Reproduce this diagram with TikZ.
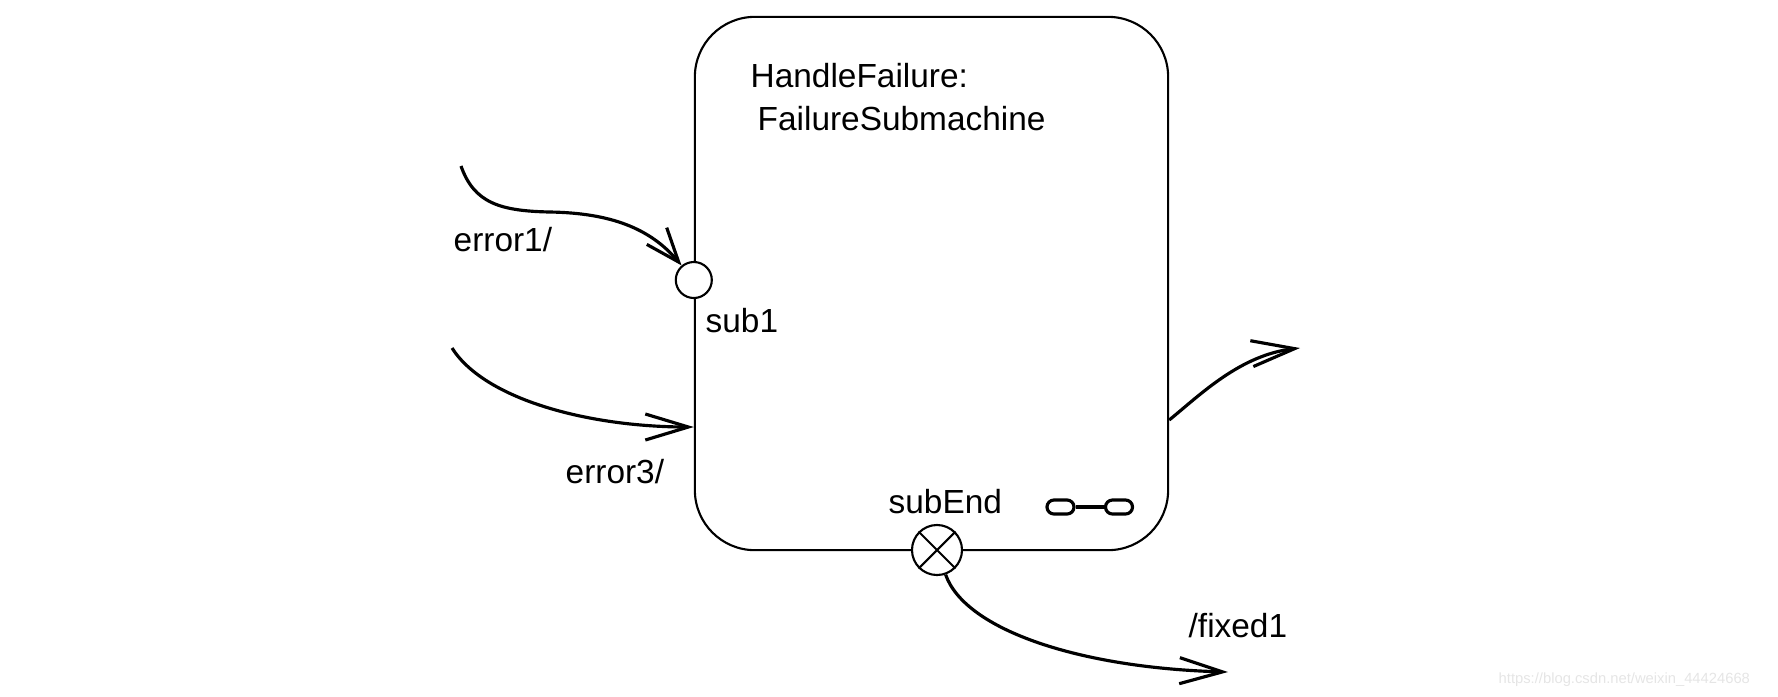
\documentclass[tikz,border=0pt]{standalone}
\usepackage{fontspec}
\setmainfont{Liberation Sans}
\usetikzlibrary{arrows.meta}
\tikzset{
  st/.style={rectangle, rounded corners=6mm, minimum width=4.73cm, minimum height=5.33cm, draw=black, line width=0.6pt},
  ep/.style={circle, minimum size=3.6mm, inner sep=0pt, draw=black, fill=white, line width=0.6pt},
  xp/.style={circle, minimum size=5mm, inner sep=0pt, draw=black, fill=white, line width=0.6pt},
  lk/.style={rectangle, rounded corners=0.7mm, minimum width=2.7mm, minimum height=1.4mm, inner sep=0pt, draw=black, line width=0.9pt},
  lb/.style={inner sep=0pt, anchor=base west, font=\fontsize{9.5}{11}\selectfont},
  tr/.style={line width=0.9pt, -{Straight Barb[length=4.3mm,width=2.6mm]}}
}
\begin{document}
\begin{tikzpicture}[x=0.01cm, y=-0.01cm]
	\useasboundingbox (0,0) rectangle (1778,696);
	\node[st] (hf) at (931.5,283.5) {};
	\node[lb] (name) at (750,87) {HandleFailure:};
	\node[lb] (type) at (757,130) {FailureSubmachine};
	\node[ep] (sub1) at (hf.west |- 0,280) {};
	\node[xp] (subEnd) at (937,550) {};
	\draw[line width=0.6pt] (subEnd.45) -- (subEnd.225) (subEnd.135) -- (subEnd.-45);
	\node[lk] (lkA) at (1060.5,507) {};
	\node[lk] (lkB) at (1119,507) {};
	\draw[line width=0.9pt] (lkA) -- (lkB);
	%
	\node[lb] (sub1lbl) at (705,332) {sub1};
	\node[lb] (subEndlbl) at (888,513) {subEnd};
	\node[lb] (e1lbl) at (453,251) {error1/};
	\node[lb] (e3lbl) at (565,483) {error3/};
	\node[lb] (fxlbl) at (1188,637) {/fixed1};
	%
	\coordinate (e1) at (461,166);
	\coordinate (e3) at (452,348);
	\coordinate (e3in) at (hf.west |- 0,427);
	\coordinate (out) at (hf.east |- 0,420);
	\coordinate (outend) at (1300,348);
	\coordinate (fx) at (1228,672);
	\draw[tr, -{Straight Barb[length=3.4mm,width=2.6mm]}] (e1) .. controls (474,203) and (500,211) .. (550,212) .. controls (610,213) and (650,228) .. (sub1);
	\draw[tr] (e3) .. controls (485,400) and (590,427) .. (e3in);
	\draw[tr] (out) .. controls (1200,395) and (1240,355) .. (outend);
	\draw[tr] (subEnd) .. controls (965,630) and (1080,668) .. (fx);
	%
	\node[inner sep=0pt, anchor=base west, text=black!10, font=\fontsize{4.2}{5}\selectfont] (wm) at (1498,683) {https://blog.csdn.net/weixin\_44424668};
\end{tikzpicture}
\end{document}
